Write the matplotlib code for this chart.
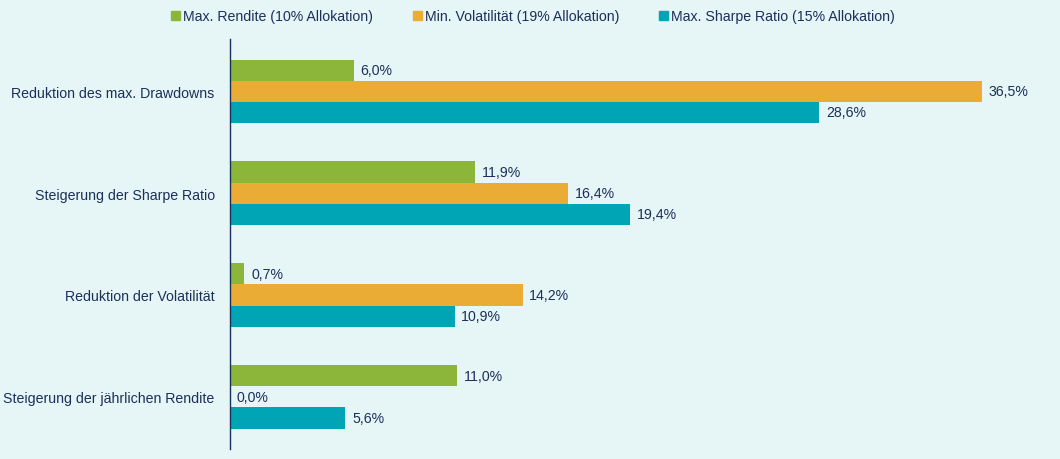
import matplotlib.pyplot as plt
import numpy as np
from matplotlib.patches import Patch

plt.rcParams['font.family'] = ['Liberation Sans', 'DejaVu Sans']

categories = ['Reduktion des max. Drawdowns', 'Steigerung der Sharpe Ratio',
              'Reduktion der Volatilität', 'Steigerung der jährlichen Rendite']
series_names = ['Max. Rendite (10% Allokation)', 'Min. Volatilität (19% Allokation)',
                'Max. Sharpe Ratio (15% Allokation)']
max_rendite = [6.0, 11.9, 0.7, 11.0]
min_vola = [36.5, 16.4, 14.2, 0.0]
max_sharpe = [28.6, 19.4, 10.9, 5.6]

colors = ['#8BB63A', '#EBAC35', '#00A5B5']
bg = '#E6F5F5'
txt = '#1B2F5B'
fs = 10.2

fig = plt.figure(figsize=(10.6, 4.6), dpi=100, facecolor=bg)
ax = fig.add_axes([230 / 1060, 10 / 460, 820 / 1060, 410 / 460])
ax.set_facecolor(bg)

y = np.arange(len(categories))
h = 0.206
for i, (vals, c) in enumerate(zip([max_rendite, min_vola, max_sharpe], colors)):
    pos = y + (i - 1) * h
    ax.barh(pos, vals, height=h, color=c)
    for p, v in zip(pos, vals):
        ax.text(v + 0.33, p, f'{v:.1f}'.replace('.', ',') + '%', va='center', ha='left',
                fontsize=fs, color=txt)

ax.set_ylim(3.51, -0.51)
ax.set_xlim(0, 39.8)
ax.set_yticks(y)
ax.set_yticklabels(categories, fontsize=fs, color=txt)
ax.tick_params(axis='y', length=0, pad=11)
ax.set_xticks([])
for s in ['top', 'right', 'bottom']:
    ax.spines[s].set_visible(False)
ax.spines['left'].set_color(txt)
ax.spines['left'].set_linewidth(1)

handles = [Patch(color=c) for c in colors]
fig.legend(handles, series_names, loc='upper center', bbox_to_anchor=(0.503, 1.005), ncol=3,
           frameon=False, fontsize=fs, handlelength=0.6, handleheight=0.6,
           handletextpad=0.25, columnspacing=2.8, labelcolor=txt)

fig.savefig('out.png', dpi=100, facecolor=bg)
